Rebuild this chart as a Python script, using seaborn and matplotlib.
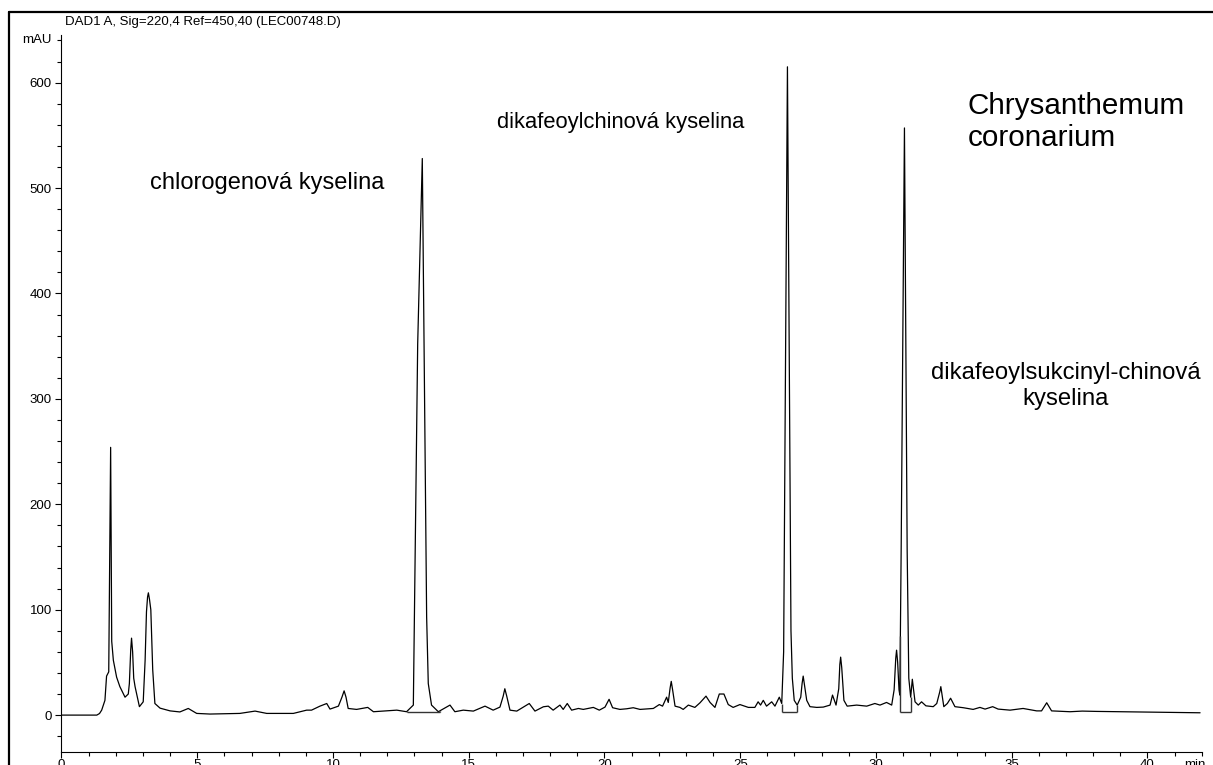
import numpy as np
import pandas as pd
import matplotlib
matplotlib.use("Agg")
import matplotlib.pyplot as plt
from matplotlib.lines import Line2D
from matplotlib.ticker import MultipleLocator
import seaborn as sns

# chromatogram trace (time in min, signal in mAU)
time_min = [0, 1.30, 1.40, 1.48, 1.60, 1.66, 1.74, 1.81, 1.85, 1.91, 2.03, 2.15, 2.34, 2.46,
            2.50, 2.55, 2.58, 2.62, 2.66, 2.71, 2.87, 3.01, 3.08, 3.13, 3.17, 3.20, 3.24,
            3.29, 3.36, 3.44, 3.63,
            4.00, 4.36, 4.67, 4.98, 5.47, 6.57, 7.13, 7.56, 8.54, 9.03, 9.21, 9.52,
            9.77, 9.89, 10.20, 10.33, 10.41, 10.48, 10.56, 10.87, 11.28, 11.49, 12.35, 12.71, 12.96,
            13.12, 13.29, 13.45, 13.51, 13.63, 13.88, 14.31, 14.49, 14.80, 15.17,
            15.60, 15.90, 16.15, 16.27, 16.33, 16.40, 16.52, 16.77, 17.23, 17.44, 17.75, 17.93,
            18.11, 18.36, 18.48, 18.63, 18.79, 19.04, 19.22, 19.59, 19.81, 20.02,
            20.17, 20.30, 20.57, 20.82, 21.06, 21.31, 21.80, 22.02, 22.14, 22.29,
            22.35, 22.42, 22.46, 22.51, 22.60, 22.78, 22.90, 23.09, 23.33, 23.52, 23.74, 23.89,
            24.07, 24.23, 24.40, 24.56, 24.74, 24.99, 25.30, 25.54, 25.66, 25.75,
            25.85, 25.97, 26.16, 26.28, 26.44, 26.53, 26.60, 26.74, 26.87, 26.92,
            26.99, 27.10, 27.23, 27.28, 27.32, 27.37, 27.45, 27.57, 27.82, 28.06, 28.31, 28.40,
            28.53, 28.63, 28.67, 28.70, 28.74, 28.82, 28.94, 29.29, 29.66, 29.96, 30.15,
            30.39, 30.58, 30.67, 30.73, 30.76, 30.80, 30.85, 30.88, 30.93, 31.05, 31.15, 31.21,
            31.28, 31.34, 31.44, 31.56, 31.68, 31.84, 32.11, 32.24, 32.35, 32.39, 32.43, 32.50,
            32.63, 32.75, 32.91, 33.22, 33.58, 33.83, 34.02, 34.30, 34.50, 34.94,
            35.42, 35.92, 36.10, 36.29, 36.47, 37.15, 37.60, 38.13, 38.99, 39.50, 40.21, 41.94]
signal_mau = [0, 0, 1.5, 4.7, 14, 37, 41, 254, 70, 52, 36, 27, 17, 20,
              30, 62, 73, 60, 35, 27, 8, 12.6, 52, 98, 112, 116, 110,
              100, 43, 11, 6.6,
              4, 3, 6.3, 1.6, 1, 1.6, 3.8, 1.6, 1.6, 4.7, 4.7, 8.5,
              11, 5.7, 8.5, 17, 23, 17, 6.3, 5.4, 7.3, 3.2, 4.7, 3.2, 9.5,
              352, 528, 93, 30, 9.5, 3.2, 9.5, 3.2, 4.7, 3.8,
              8.5, 4.7, 7.6, 18, 25, 18, 4.7, 3.8, 11, 3.8, 7.9, 8.5,
              4.7, 9.5, 5.4, 11, 4.7, 6.3, 5.4, 7.3, 4.7, 7.6,
              15, 7, 5.4, 6, 7, 5.4, 6.3, 10, 8.5, 17,
              12, 26, 32, 24, 8.5, 7.3, 5.4, 9.5, 7.3, 11.7, 18, 12,
              7.3, 20, 20, 10, 7.3, 10, 7.3, 7.3, 12.6, 9.5,
              14, 8.5, 12.6, 8.5, 17, 11, 60, 615, 80, 35,
              14, 9.5, 17, 30, 37, 28, 14, 8, 7.3, 7.6, 9.5, 19,
              9.5, 25, 48, 55, 45, 14, 8.5, 9.5, 8.5, 11, 9.5,
              12, 9.5, 24, 54, 61.6, 50, 24, 19, 160, 557, 156, 35,
              17, 34, 12.6, 9.5, 12.6, 8.8, 8, 11, 22, 27, 20, 8,
              11, 16, 8, 7, 5.4, 7.3, 5.7, 8, 5.7, 4.7,
              6.3, 4, 4, 11.7, 4, 3.2, 3.8, 3.5, 3.2, 3.0, 2.8, 2.2]

# integration baselines drawn under the three main peaks
base_start = [12.74, 26.53, 30.90]
base_end = [13.94, 27.10, 31.28]
base_level = [3.2, 3.0, 2.5]

header = "DAD1 A, Sig=220,4 Ref=450,40 (LEC00748.D)"
peak_names = ["chlorogenová kyselina", "dikafeoylchinová kyselina"]
peak_name_pos = [(3.26, 505), (16.04, 562)]
peak_name_size = [17, 15.8]

df = pd.DataFrame({"time": time_min, "mAU": signal_mau})

sns.set_style("ticks")
plt.rcParams["font.family"] = ["Liberation Sans", "DejaVu Sans"]
plt.rcParams["text.color"] = "black"
plt.rcParams["xtick.color"] = "black"
plt.rcParams["ytick.color"] = "black"

fig = plt.figure(figsize=(12.13, 7.65), dpi=100)
ax = fig.add_axes([0.0507, 0.017, 0.940, 0.937])

sns.lineplot(data=df, x="time", y="mAU", color="black", linewidth=0.9,
             estimator=None, sort=False, ax=ax)

for s, e, lv in zip(base_start, base_end, base_level):
    ax.hlines(lv, s, e, color="#333333", linewidth=1.0)
    ax.vlines([s, e], lv, np.interp([s, e], time_min, signal_mau),
              color="#333333", linewidth=1.0)

ax.set_xlim(0, 42)
ax.set_ylim(-35, 645)
ax.xaxis.set_major_locator(MultipleLocator(5))
ax.xaxis.set_minor_locator(MultipleLocator(1))
ax.set_yticks(range(0, 601, 100))
ax.yaxis.set_minor_locator(MultipleLocator(20))
ax.tick_params(axis="both", which="major", direction="out", length=4,
               width=0.8, labelsize=9.5, pad=3, color="black", labelcolor="black")
ax.tick_params(axis="both", which="minor", direction="out", length=3,
               width=0.8, color="black")
ax.tick_params(axis="x", which="major", pad=1)
ax.set_xlabel("")
ax.set_ylabel("")
for side in ["top", "right"]:
    ax.spines[side].set_visible(False)
for side in ["left", "bottom"]:
    ax.spines[side].set_linewidth(0.8)
    ax.spines[side].set_color("black")

ax.annotate("mAU", xy=(0, 640), xycoords=("axes fraction", "data"),
            xytext=(-7, 0), textcoords="offset points", ha="right",
            va="center", fontsize=9.5)
ax.annotate("min", xy=(41.75, 0), xycoords=("data", "axes fraction"),
            xytext=(0, -5), textcoords="offset points", ha="center",
            va="top", fontsize=9.5)

for name, (tx, ty), fs in zip(peak_names, peak_name_pos, peak_name_size):
    ax.text(tx, ty, name, fontsize=fs, ha="left", va="center")
ax.text(33.39, 578, "Chrysanthemum", fontsize=21.3, ha="left", va="center")
ax.text(33.39, 547, "coronarium", fontsize=21.3, ha="left", va="center")
ax.text(37.0, 325, "dikafeoylsukcinyl-chinová", fontsize=17.2, ha="center", va="center")
ax.text(37.0, 300, "kyselina", fontsize=17.2, ha="center", va="center")

fig.text(65 / 1213, 1 - 22 / 765, header, fontsize=9.5, ha="left", va="center")

# outer frame of the printout
fig.add_artist(Line2D([9 / 1213, 9 / 1213], [0, 1 - 12 / 765], color="black", linewidth=1.6))
fig.add_artist(Line2D([9 / 1213, 1], [1 - 12 / 765, 1 - 12 / 765], color="black", linewidth=1.6))

fig.savefig("out.png", dpi=100)
